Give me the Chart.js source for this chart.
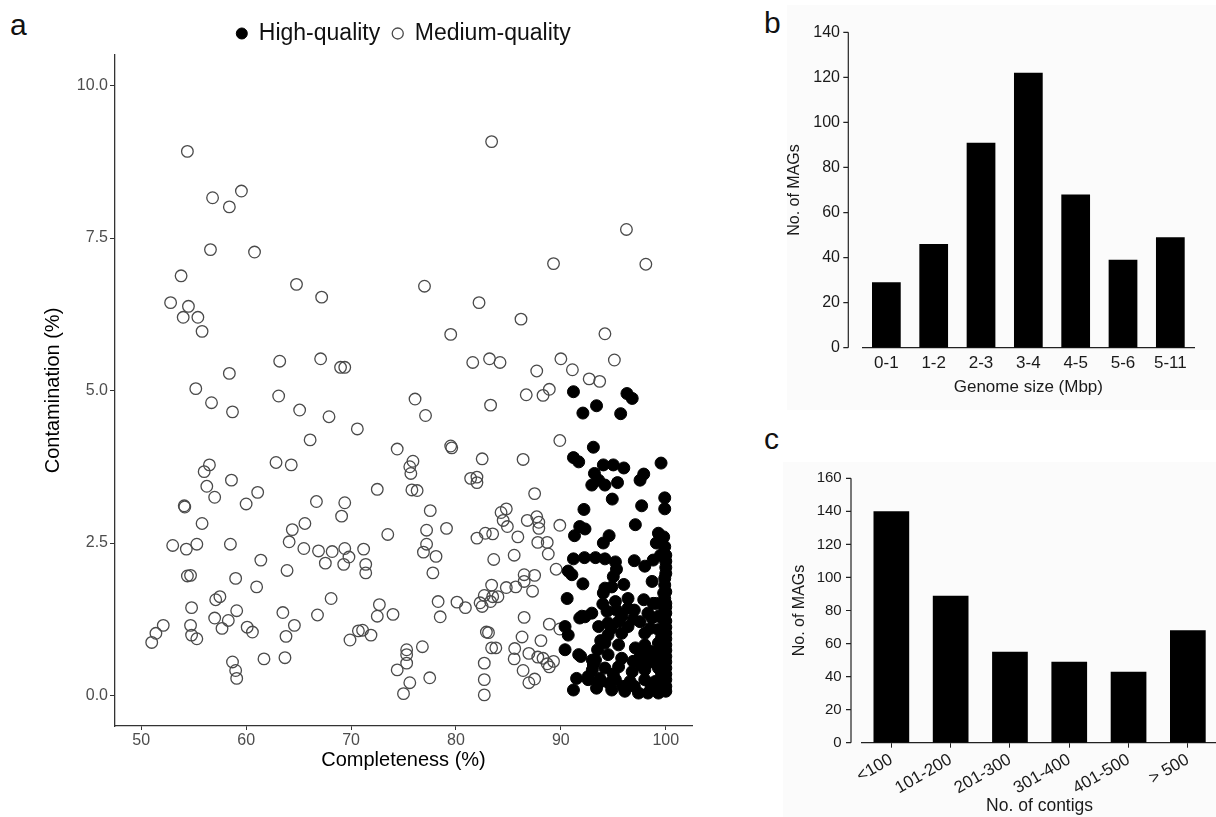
<!DOCTYPE html>
<html lang="en">
<head>
  <meta charset="UTF-8">
  <title>MAG quality, genome size and contig counts</title>
  <script src="https://cdn.jsdelivr.net/npm/chart.js"></script>
  <style>
    body { margin: 0; background: #fff; font-family: "Liberation Sans", Arial, sans-serif; }
    #page { position: relative; width: 1216px; height: 817px; overflow: hidden; }
    canvas { position: absolute; }
    .tag { position: absolute; font-size: 30px; line-height: 30px; color: #111; }
    .shade { position: absolute; background: #fbfbfb; }
  </style>
</head>
<body>
<div id="page">
  <div class="shade" style="left:787px; top:5px; width:429px; height:405px;"></div>
  <div class="shade" style="left:783px; top:462px; width:433px; height:355px;"></div>

  <div class="tag" style="left:10px; top:10px;">a</div>
  <div class="tag" style="left:764px; top:8px;">b</div>
  <div class="tag" style="left:764px; top:424px;">c</div>

  <canvas id="qualityChart" width="740" height="817" style="left:0; top:0;"></canvas>
  <canvas id="genomeChart" width="476" height="400" style="left:740px; top:0;"></canvas>
  <canvas id="contigChart" width="490" height="397" style="left:740px; top:420px;"></canvas>
</div>

<script>
  // panel a: [completeness %, contamination %]
  const highQuality = [
    [91.2,4.98],[96.3,4.95],[96.8,4.87],[93.4,4.75],[92.1,4.63],[95.7,4.62],[93.1,4.07],
    [91.2,3.90],[91.7,3.83],[94.05,3.78],[95.0,3.78],[96.0,3.73],[99.55,3.81],[93.2,3.64],
    [93.6,3.53],[97.9,3.63],[97.55,3.53],[92.95,3.45],[94.2,3.45],[95.4,3.49],
    [94.9,3.22],[97.7,3.11],[99.9,3.24],[99.9,3.06],[92.2,3.05],[97.1,2.80],[91.8,2.77],
    [92.3,2.73],[91.3,2.62],[94.6,2.62],[94.05,2.50],[99.3,2.66],[99.8,2.60],[99.1,2.50],
    [99.9,2.44],[100,2.30],[91.2,2.24],[92.25,2.26],[93.3,2.26],[94.2,2.24],[95.2,2.19],
    [97.0,2.21],[98.0,2.12],[98.8,2.22],[99.5,2.30],[90.7,2.04],[91.05,1.98],[95.3,2.07],
    [95.0,1.95],[96.0,1.82],[92.1,1.83],[98.7,1.87],[99.9,1.92],[99.9,1.81],[94.2,1.76],
    [94.85,1.78],
    [90.6,1.59],[94.05,1.68],[95.2,1.54],[96.4,1.59],[97.9,1.57],[99.1,1.51],[99.9,1.59],
    [99.9,1.40],[92.0,1.30],[92.95,1.35],[94.4,1.38],[95.3,1.40],[96.4,1.43],[93.6,1.13],
    [94.5,1.19],[95.5,1.21],[96.4,1.13],[97.55,1.21],[98.7,1.27],[99.8,1.24],[90.4,1.13],
    [90.7,0.99],[94.5,0.99],[95.8,1.02],[98.0,1.02],[99.3,1.08],[100,1.02],[94.2,0.86],
    [95.5,0.83],[97.1,0.78],[98.0,0.83],[99.3,0.86],[100,0.83],[90.4,0.75],[91.7,0.67],
    [93.3,0.58],[94.5,0.67],[95.8,0.61],[96.9,0.56],[98.0,0.64],[99.3,0.67],[100,0.64],
    [93.0,0.42],[94.2,0.45],[95.5,0.47],[96.8,0.39],[98.0,0.42],[99.3,0.45],[100,0.45],
    [91.5,0.28],[92.6,0.26],[93.7,0.28],[95.2,0.26],[96.6,0.23],[98.0,0.26],[99.0,0.23],
    [100,0.26],[91.2,0.09],[93.4,0.12],[94.85,0.09],[96.1,0.07],[97.4,0.04],[98.3,0.04],
    [99.3,0.04],[100,0.07],
    [99.8,1.68],[100,1.51],[100,1.35],[98.8,1.51],[91.8,1.27],[92.3,1.29],[91.9,0.64],
    [92.6,0.31],[93.6,0.20],[93.1,0.50],[93.0,0.58],
    [97.5,0.62],[98.6,0.72],[97.6,0.50],[98.6,0.55],[99.6,0.55],[97.0,0.15],[98.6,0.15],
    [99.6,0.15],[99.6,0.35],[99.6,0.75],[99.6,0.95],[100,0.15],[100,0.35],[100,0.55],
    [100,0.74],[100,0.93],[100,1.12],[100,1.22],[100,1.45],[100,1.70],[100,2.00],[100,2.10],
    [100,2.20],[94.8,1.10],[95.0,0.35],[94.6,0.20],[95.9,0.15],[93.8,0.90],[93.5,0.75],
    [94.0,1.50],[95.8,1.30],[97.0,1.40],[98.3,1.35],[99.3,1.30],[98.5,1.10],[96.9,1.25],
    [97.8,0.70]
  ];

  const mediumQuality = [
    [54.4,8.92],[56.8,8.16],[58.4,8.01],[59.55,8.27],[56.6,7.31],[60.8,7.27],[53.8,6.88],
    [64.8,6.74],[67.2,6.53],[52.8,6.44],[54.5,6.38],[54.0,6.20],[55.4,6.20],[55.8,5.97],
    [63.2,5.48],[67.1,5.52],[69.0,5.38],[69.4,5.38],[58.4,5.28],[55.2,5.03],[63.1,4.91],
    [56.7,4.80],[58.7,4.65],[65.1,4.68],[67.9,4.57],[70.6,4.37],[66.1,4.19],[74.4,4.04],
    [83.4,9.08],[96.25,7.64],[89.3,7.08],[98.1,7.07],[77.0,6.71],[82.2,6.44],[86.2,6.17],
    [79.5,5.92],[94.2,5.93],[81.6,5.46],[83.2,5.52],[84.2,5.46],[90.0,5.52],[95.1,5.50],
    [87.7,5.32],[91.1,5.34],[92.7,5.19],[93.7,5.15],[76.1,4.86],[86.7,4.93],[88.3,4.92],
    [88.9,5.02],[83.3,4.76],[77.1,4.59],[79.5,4.09],[79.6,4.06],[89.9,4.18],
    [62.85,3.82],[64.3,3.78],[56.0,3.67],[56.5,3.78],[58.6,3.53],[56.25,3.43],[61.1,3.33],
    [57.0,3.25],[72.5,3.38],[54.1,3.11],[54.15,3.09],[60.0,3.14],[66.7,3.18],[69.4,3.16],
    [69.1,2.94],[55.8,2.82],[65.6,2.82],[64.4,2.72],[73.5,2.64],[53.0,2.46],[54.3,2.40],
    [55.3,2.48],[58.5,2.48],[64.1,2.52],[65.5,2.41],[66.9,2.37],[68.2,2.36],[69.4,2.41],
    [69.8,2.27],[71.2,2.40],[67.55,2.17],[69.3,2.15],[71.4,2.15],[71.4,2.01],[61.4,2.22],
    [63.9,2.05],[54.4,1.96],[54.7,1.97],[59.0,1.92],[61.0,1.78],[68.1,1.59],[57.1,1.57],
    [57.5,1.62],[54.8,1.44],[59.1,1.39],[63.5,1.36],[66.8,1.32],[72.7,1.49],[72.5,1.30],
    [74.0,1.33],[52.1,1.15],[51.4,1.02],[51.0,0.87],[54.7,1.15],[54.8,0.99],[55.3,0.93],
    [57.0,1.27],[58.3,1.23],[57.7,1.10],[60.1,1.12],[60.6,1.04],[63.8,0.97],[64.6,1.15],
    [69.9,0.91],[70.7,1.06],[71.1,1.07],[71.9,0.99],[58.7,0.55],[59.0,0.41],[59.1,0.28],
    [61.7,0.60],[63.7,0.62],[74.4,0.42],[75.0,0.03],
    [82.5,3.88],[86.4,3.87],[75.9,3.84],[75.6,3.75],[75.7,3.64],[75.8,3.37],[76.3,3.36],
    [81.4,3.56],[82.0,3.58],[82.0,3.49],[87.5,3.31],[77.55,3.03],[84.3,3.00],[84.8,3.06],
    [84.5,2.87],[84.9,2.77],[86.8,2.87],[87.7,2.93],[87.9,2.84],[87.9,2.74],[89.9,2.79],
    [77.2,2.71],[79.1,2.74],[77.2,2.48],[76.9,2.35],[78.1,2.28],[77.8,2.01],[82.0,2.58],
    [82.8,2.66],[83.5,2.65],[85.9,2.60],[87.8,2.51],[88.7,2.51],[88.8,2.32],[85.55,2.30],
    [83.6,2.23],[89.55,2.07],[86.5,1.98],[87.5,1.97],[86.5,1.87],[87.3,1.71],[85.7,1.78],
    [84.8,1.77],[83.4,1.81],[84.0,1.62],[83.5,1.62],[82.7,1.64],[82.3,1.52],[82.5,1.46],
    [83.3,1.54],[78.3,1.54],[78.5,1.29],[80.1,1.53],[80.9,1.44],[86.5,1.28],[88.9,1.17],
    [89.9,1.09],[82.9,1.04],[83.1,1.03],[83.4,0.78],[83.8,0.78],[86.3,0.96],[88.1,0.90],
    [85.6,0.77],[86.95,0.69],[87.8,0.63],[88.3,0.61],[88.7,0.52],[89.3,0.56],[88.9,0.47],
    [85.55,0.60],[76.8,0.80],[75.3,0.75],[75.3,0.67],[75.3,0.53],[75.6,0.21],[77.5,0.29],
    [82.7,0.53],[82.7,0.26],[82.7,0.01],[86.4,0.41],[86.95,0.21],[87.5,0.27]
  ];

  const completenessTicks = [50, 60, 70, 80, 90, 100];
  const contaminationTicks = [0, 2.5, 5, 7.5, 10];

  // panel b
  const genomeSizeLabels = ["0-1", "1-2", "2-3", "3-4", "4-5", "5-6", "5-11"];
  const genomeSizeCounts = [29, 46, 91, 122, 68, 39, 49];
  const genomeCountTicks = [0, 20, 40, 60, 80, 100, 120, 140];

  // panel c
  const contigLabels = ["<100", "101-200", "201-300", "301-400", "401-500", "> 500"];
  const contigCounts = [140, 89, 55, 49, 43, 68];
  const contigCountTicks = [0, 20, 40, 60, 80, 100, 120, 140, 160];

  Chart.defaults.font.family = '"Liberation Sans", Arial, sans-serif';
  Chart.defaults.animation = false;

  const toPoints = arr => arr.map(p => ({ x: p[0], y: p[1] }));
  const fixedTicks = list => scale => { scale.ticks = list.map(v => ({ value: v })); };

  // y axis line drawn a little left of the plot, like the GraphPad panels
  const offsetAxis = {
    id: "offsetAxis",
    afterDraw(chart, args, opts) {
      const y = chart.scales.y;
      const ctx = chart.ctx;
      const x0 = chart.chartArea.left - opts.gap;
      ctx.save();
      ctx.strokeStyle = "#222";
      ctx.lineWidth = 1.2;
      ctx.beginPath();
      ctx.moveTo(x0, y.getPixelForValue(y.max));
      ctx.lineTo(x0, y.getPixelForValue(0));
      y.ticks.forEach(t => {
        const py = y.getPixelForValue(t.value);
        ctx.moveTo(x0 - opts.len, py);
        ctx.lineTo(x0, py);
      });
      ctx.stroke();
      ctx.restore();
    }
  };

  // a) scatter
  new Chart(document.getElementById("qualityChart"), {
    type: "scatter",
    data: {
      datasets: [
        {
          label: "High-quality",
          data: toPoints(highQuality),
          backgroundColor: "#000",
          borderColor: "#000",
          borderWidth: 1,
          pointRadius: 6,
        },
        {
          label: "Medium-quality",
          data: toPoints(mediumQuality),
          backgroundColor: "rgba(255,255,255,0)",
          borderColor: "#4a4a4a",
          borderWidth: 1.3,
          pointRadius: 5.8,
        },
      ],
    },
    options: {
      responsive: false,
      devicePixelRatio: 1,
      layout: { padding: { left: 40, right: 48, top: 10, bottom: 45 } },
      plugins: {
        legend: {
          position: "top",
          fullSize: false,
          labels: {
            usePointStyle: true,
            boxWidth: 11,
            boxHeight: 7.8,
            padding: 12,
            color: "#111",
            font: { size: 23 },
          },
        },
        tooltip: { enabled: false },
      },
      scales: {
        x: {
          type: "linear",
          min: 47.5,
          max: 102.5,
          afterBuildTicks: fixedTicks(completenessTicks),
          afterFit: s => { s.height = 46; },
          ticks: { color: "#4d4d4d", font: { size: 16 }, padding: 1 },
          grid: { drawOnChartArea: false, tickLength: 4, color: "#333" },
          border: { color: "#333", width: 1.3 },
          title: { display: true, text: "Completeness (%)", color: "#000", font: { size: 20 }, padding: 0 },
        },
        y: {
          min: -0.5,
          max: 10.5,
          afterBuildTicks: fixedTicks(contaminationTicks),
          afterFit: s => { s.width = 75; },
          ticks: { color: "#4d4d4d", font: { size: 16 }, padding: 2, callback: v => v.toFixed(1) },
          grid: { drawOnChartArea: false, tickLength: 5, color: "#333" },
          border: { color: "#333", width: 1.3 },
          title: { display: true, text: "Contamination (%)", color: "#000", font: { size: 20 }, padding: { top: 1, bottom: 0 } },
        },
      },
    },
  });

  // b) genome size histogram
  new Chart(document.getElementById("genomeChart"), {
    type: "bar",
    data: {
      labels: genomeSizeLabels,
      datasets: [{
        data: genomeSizeCounts,
        backgroundColor: "#000",
        borderWidth: 0,
        barPercentage: 0.607,
        categoryPercentage: 1,
      }],
    },
    options: {
      responsive: false,
      devicePixelRatio: 1,
      layout: { padding: { left: 45, right: 22, top: 27.7, bottom: 2.7 } },
      plugins: {
        legend: { display: false },
        tooltip: { enabled: false },
        offsetAxis: { gap: 14.4, len: 5 },
      },
      scales: {
        x: {
          afterFit: s => { s.height = 49.6; },
          grid: { display: false, drawTicks: false },
          border: { display: true, color: "#222", width: 1.2 },
          ticks: { color: "#1a1a1a", font: { size: 17 }, padding: 5 },
          title: { display: true, text: "Genome size (Mbp)", color: "#1a1a1a", font: { size: 17 }, padding: 0 },
        },
        y: {
          min: 0,
          max: 140,
          afterBuildTicks: fixedTicks(genomeCountTicks),
          afterFit: s => { s.width = 77.7; },
          grid: { display: false, drawTicks: false },
          border: { display: false },
          ticks: { color: "#1a1a1a", font: { size: 16 }, padding: 22.7 },
          title: { display: true, text: "No. of MAGs", color: "#1a1a1a", font: { size: 16 }, padding: 0 },
        },
      },
    },
    plugins: [offsetAxis],
  });

  // c) contig count histogram
  new Chart(document.getElementById("contigChart"), {
    type: "bar",
    data: {
      labels: contigLabels,
      datasets: [{
        data: contigCounts,
        backgroundColor: "#000",
        borderWidth: 0,
        barPercentage: 0.602,
        categoryPercentage: 1,
      }],
    },
    options: {
      responsive: false,
      devicePixelRatio: 1,
      layout: { padding: { left: 50, right: 12.5, top: 58.3, bottom: 0 } },
      plugins: {
        legend: { display: false },
        tooltip: { enabled: false },
        offsetAxis: { gap: 10.7, len: 5 },
      },
      scales: {
        x: {
          afterFit: s => { s.height = 74.3; },
          grid: { drawOnChartArea: false, offset: false, tickLength: 5, color: "#222" },
          border: { display: true, color: "#222", width: 1.2 },
          ticks: { color: "#1a1a1a", font: { size: 17 }, padding: 2, minRotation: 30, maxRotation: 30 },
          title: { display: true, text: "No. of contigs", color: "#1a1a1a", font: { size: 17.5 }, padding: 0 },
        },
        y: {
          min: 0,
          max: 160,
          afterBuildTicks: fixedTicks(contigCountTicks),
          afterFit: s => { s.width = 71.7; },
          grid: { display: false, drawTicks: false },
          border: { display: false },
          ticks: { color: "#1a1a1a", font: { size: 15 }, padding: 20 },
          title: { display: true, text: "No. of MAGs", color: "#1a1a1a", font: { size: 16 }, padding: 0 },
        },
      },
    },
    plugins: [offsetAxis],
  });
</script>
</body>
</html>
